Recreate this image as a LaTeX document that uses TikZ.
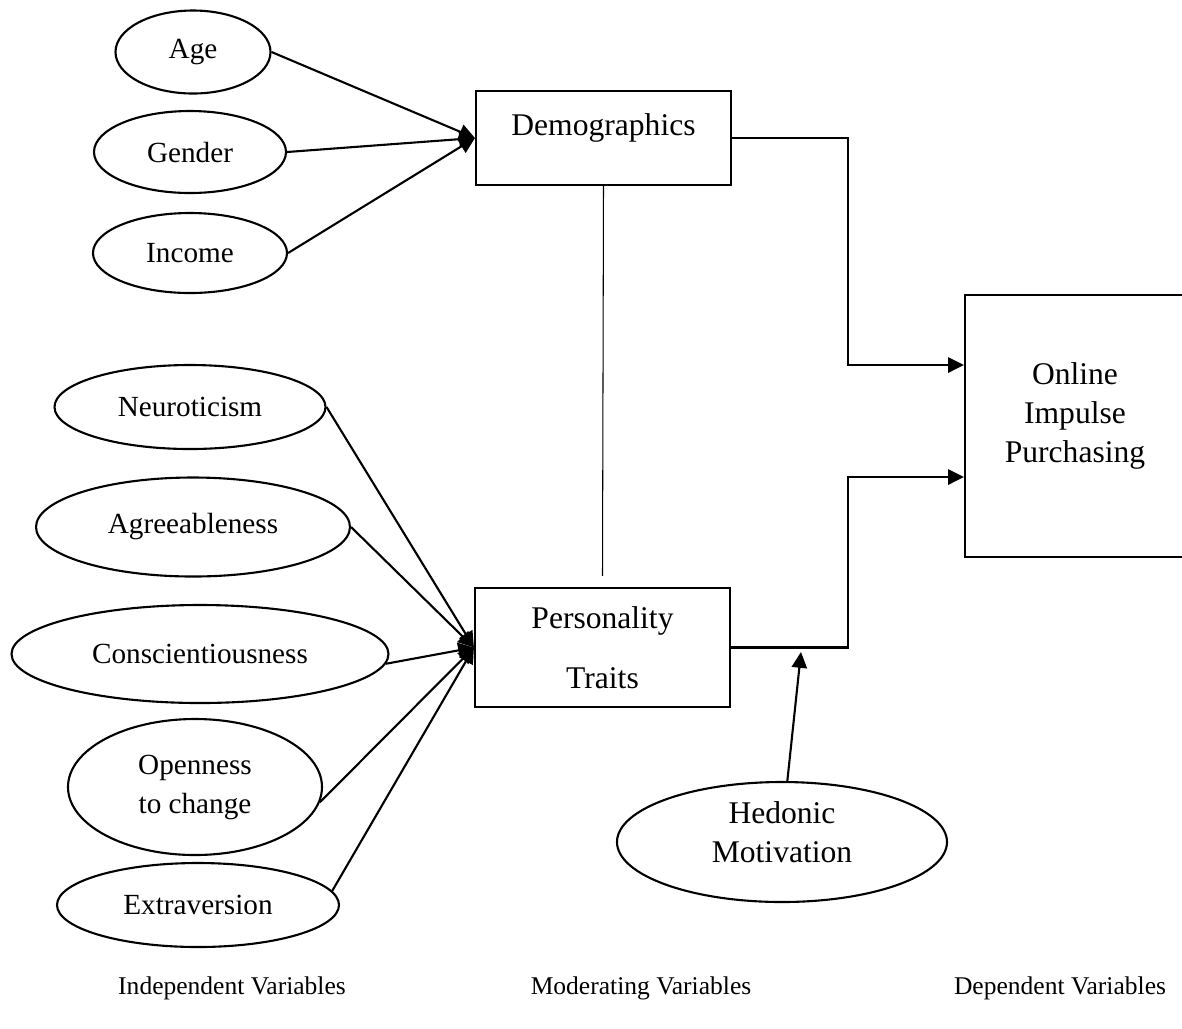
\documentclass[tikz,border=0pt]{standalone}
\usepackage{fontspec}
\setmainfont{Liberation Serif}
\usetikzlibrary{shapes.geometric,arrows.meta}
\newlength{\pxu}
\setlength{\pxu}{0.38pt}

\begin{document}
\begin{tikzpicture}[x=0.38pt,y=-0.38pt,>={Triangle[length=6pt,width=5.8pt]},
  line width=0.8pt,
  var/.style={ellipse,draw,inner sep=0pt,align=center,
              font=\fontsize{11.1}{14.8}\selectfont},
  box/.style={draw,inner sep=0pt,align=center,
              font=\fontsize{12}{14.8}\selectfont},
  caption/.style={font=\fontsize{9.7}{12}\selectfont}]
  \useasboundingbox (0,0) rectangle (1182,1028);
  % independent variables
  \node[var,minimum width=155\pxu,minimum height=83\pxu] (age) at (193,52) {Age};
  \node[var,minimum width=192\pxu,minimum height=82\pxu] (gen) at (190,152) {Gender};
  \node[var,minimum width=194\pxu,minimum height=80\pxu] (inc) at (190,253) {Income};
  \node[var,minimum width=271\pxu,minimum height=84\pxu] (neu) at (190,407) {Neuroticism};
  \node[var,minimum width=314\pxu,minimum height=99\pxu] (agr) at (193,527) {Agreeableness};
  \node[var,minimum width=377\pxu,minimum height=98\pxu] (con) at (200,654) {Conscientiousness};
  \node[var,minimum width=254\pxu,minimum height=136\pxu] (opn) at (195,787) {Openness\\to change};
  \node[var,minimum width=282\pxu,minimum height=84\pxu] (ext) at (198,905) {Extraversion};
  % moderating and dependent
  \node[box,minimum width=255\pxu,minimum height=94\pxu,text depth=10pt] (dem) at (603.5,138) {Demographics};
  \node[box,minimum width=255\pxu,minimum height=119\pxu] (per) at (602.5,647.5) {Personality\\[8pt]Traits};
  \node[box,minimum width=220\pxu,minimum height=262\pxu,text depth=10pt] (oip) at (1075,426)
       {Online\\Impulse\\Purchasing};
  \node[var,font=\fontsize{12}{14.8}\selectfont,minimum width=330\pxu,minimum height=120\pxu,
        text height=15.5pt] (hed) at (782,842) {Hedonic\\Motivation};
  \coordinate (hedtip) at (801,652);
  % captions
  \node[caption] (capi) at (232,988) {Independent Variables};
  \node[caption] (capm) at (641,988) {Moderating Variables};
  \node[caption] (capd) at (1060,988) {Dependent Variables};
  % connectors
  \draw[->] (age.east) -- (dem.west); \draw[->] (gen.east) -- (dem.west);
  \draw[->] (inc.east) -- (dem.west);
  \draw[->] (neu.east) -- (per.west); \draw[->] (agr.east) -- (per.west);
  \draw[->] (con.-3) -- (per.west); \draw[->] (opn.-7) -- (per.west);
  \draw[->] (ext.6) -- (per.west);
  \draw[line width=0.4pt] (dem.south) -- ([yshift=11\pxu]per.north);
  \draw[->] (dem.east) -- ++(116,0) |- ([yshift=61\pxu]oip.west);
  \draw[->] (per.east) -- ++(117,0) |- ([yshift=-51\pxu]oip.west);
  \draw[->] (hed.85) -- (hedtip);
\end{tikzpicture}
\end{document}
